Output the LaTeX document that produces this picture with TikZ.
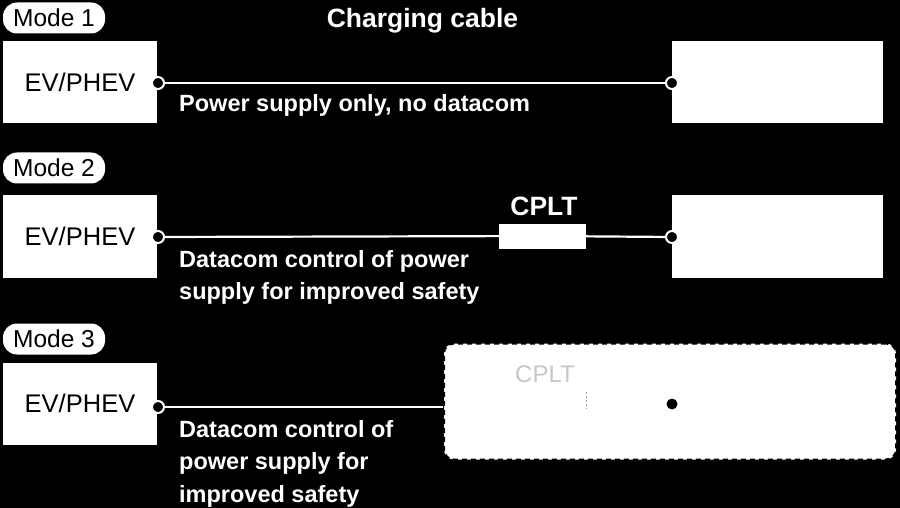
\documentclass[tikz,border=0pt]{standalone}
\usepackage{fontspec}
\setmainfont{Liberation Sans}
\begin{document}
\begin{tikzpicture}[x=1pt,y=-1pt,
  box/.style={fill=white,draw=none,minimum width=154pt,minimum height=82pt,inner sep=0pt,font=\fontsize{25.5}{28}\selectfont},
  rbox/.style={fill=white,draw=none,minimum width=211pt,minimum height=82pt,inner sep=0pt},
  pill/.style={fill=white,draw=none,rounded corners=14pt,minimum width=102pt,minimum height=31pt,inner sep=0pt,font=\fontsize{24.5}{26}\selectfont},
  lbl/.style={text=white,font=\bfseries\fontsize{23.5}{32.5}\selectfont,anchor=north west,inner sep=0pt,align=left},
  big/.style={text=white,font=\bfseries\fontsize{26.5}{28}\selectfont,inner sep=0pt},
  wire/.style={draw=white,line width=2.2pt},
  pin/.style={circle,fill=black,draw=white,line width=2pt,minimum size=12pt,inner sep=0pt}]
\useasboundingbox[fill=black] (0,0) rectangle (900,508);
% Mode 1
\node[pill] (m1) at (54,18) {Mode 1};
\node[box] (ev1) at (80,82) {EV/PHEV};
\node[rbox] (r1) at (777.5,82) {};
\node[pin] (p1a) at (158,83) {};
\node[pin] (p1b) at (672,83) {};
\draw[wire] (p1a) -- (p1b);
\node[big] (cc) at (422.5,21) {Charging cable};
\node[lbl] (t1) at (179,94) {Power supply only, no datacom};
% Mode 2
\node[pill] (m2) at (54,168) {Mode 2};
\node[box] (ev2) at (80,236.5) {EV/PHEV};
\node[rbox] (r2) at (777.5,236.5) {};
\node[pin] (p2a) at (158,237) {};
\node[pin] (p2b) at (672,237) {};
\node[fill=white,minimum width=87pt,minimum height=25pt,inner sep=0pt] (cp) at (542.5,236) {};
\draw[wire] (p2a) -- (cp);
\draw[wire] (cp) -- (p2b);
\node[big] (cpt) at (544,206) {CPLT};
\node[lbl] (t2) at (179,250) {Datacom control of power\\supply for improved safety};
% Mode 3
\node[pill] (m3) at (54,339) {Mode 3};
\node[box] (ev3) at (80,403.5) {EV/PHEV};
\node[fill=white,draw=black,dashed,dash pattern=on 5pt off 4pt,line width=2pt,rounded corners=10pt,minimum width=452pt,minimum height=116pt,inner sep=0pt] (d3) at (670,401.5) {};
\node[pin] (p3a) at (158,407) {};
\draw[wire] (p3a) -- (d3.west |- p3a);
\node[text=black!22,font=\fontsize{24}{26}\selectfont,inner sep=0pt] (gh) at (545,374) {CPLT};
\draw[black!35,line width=0.8pt,dashed,dash pattern=on 2pt off 2pt] (586,392) coordinate (g1) -- (586,409) coordinate (g2);
\node[circle,fill=black,minimum size=11pt,inner sep=0pt] (d3p) at (672,404) {};
\node[lbl] (t3) at (179,420) {Datacom control of\\power supply for\\improved safety};
\end{tikzpicture}
\end{document}
